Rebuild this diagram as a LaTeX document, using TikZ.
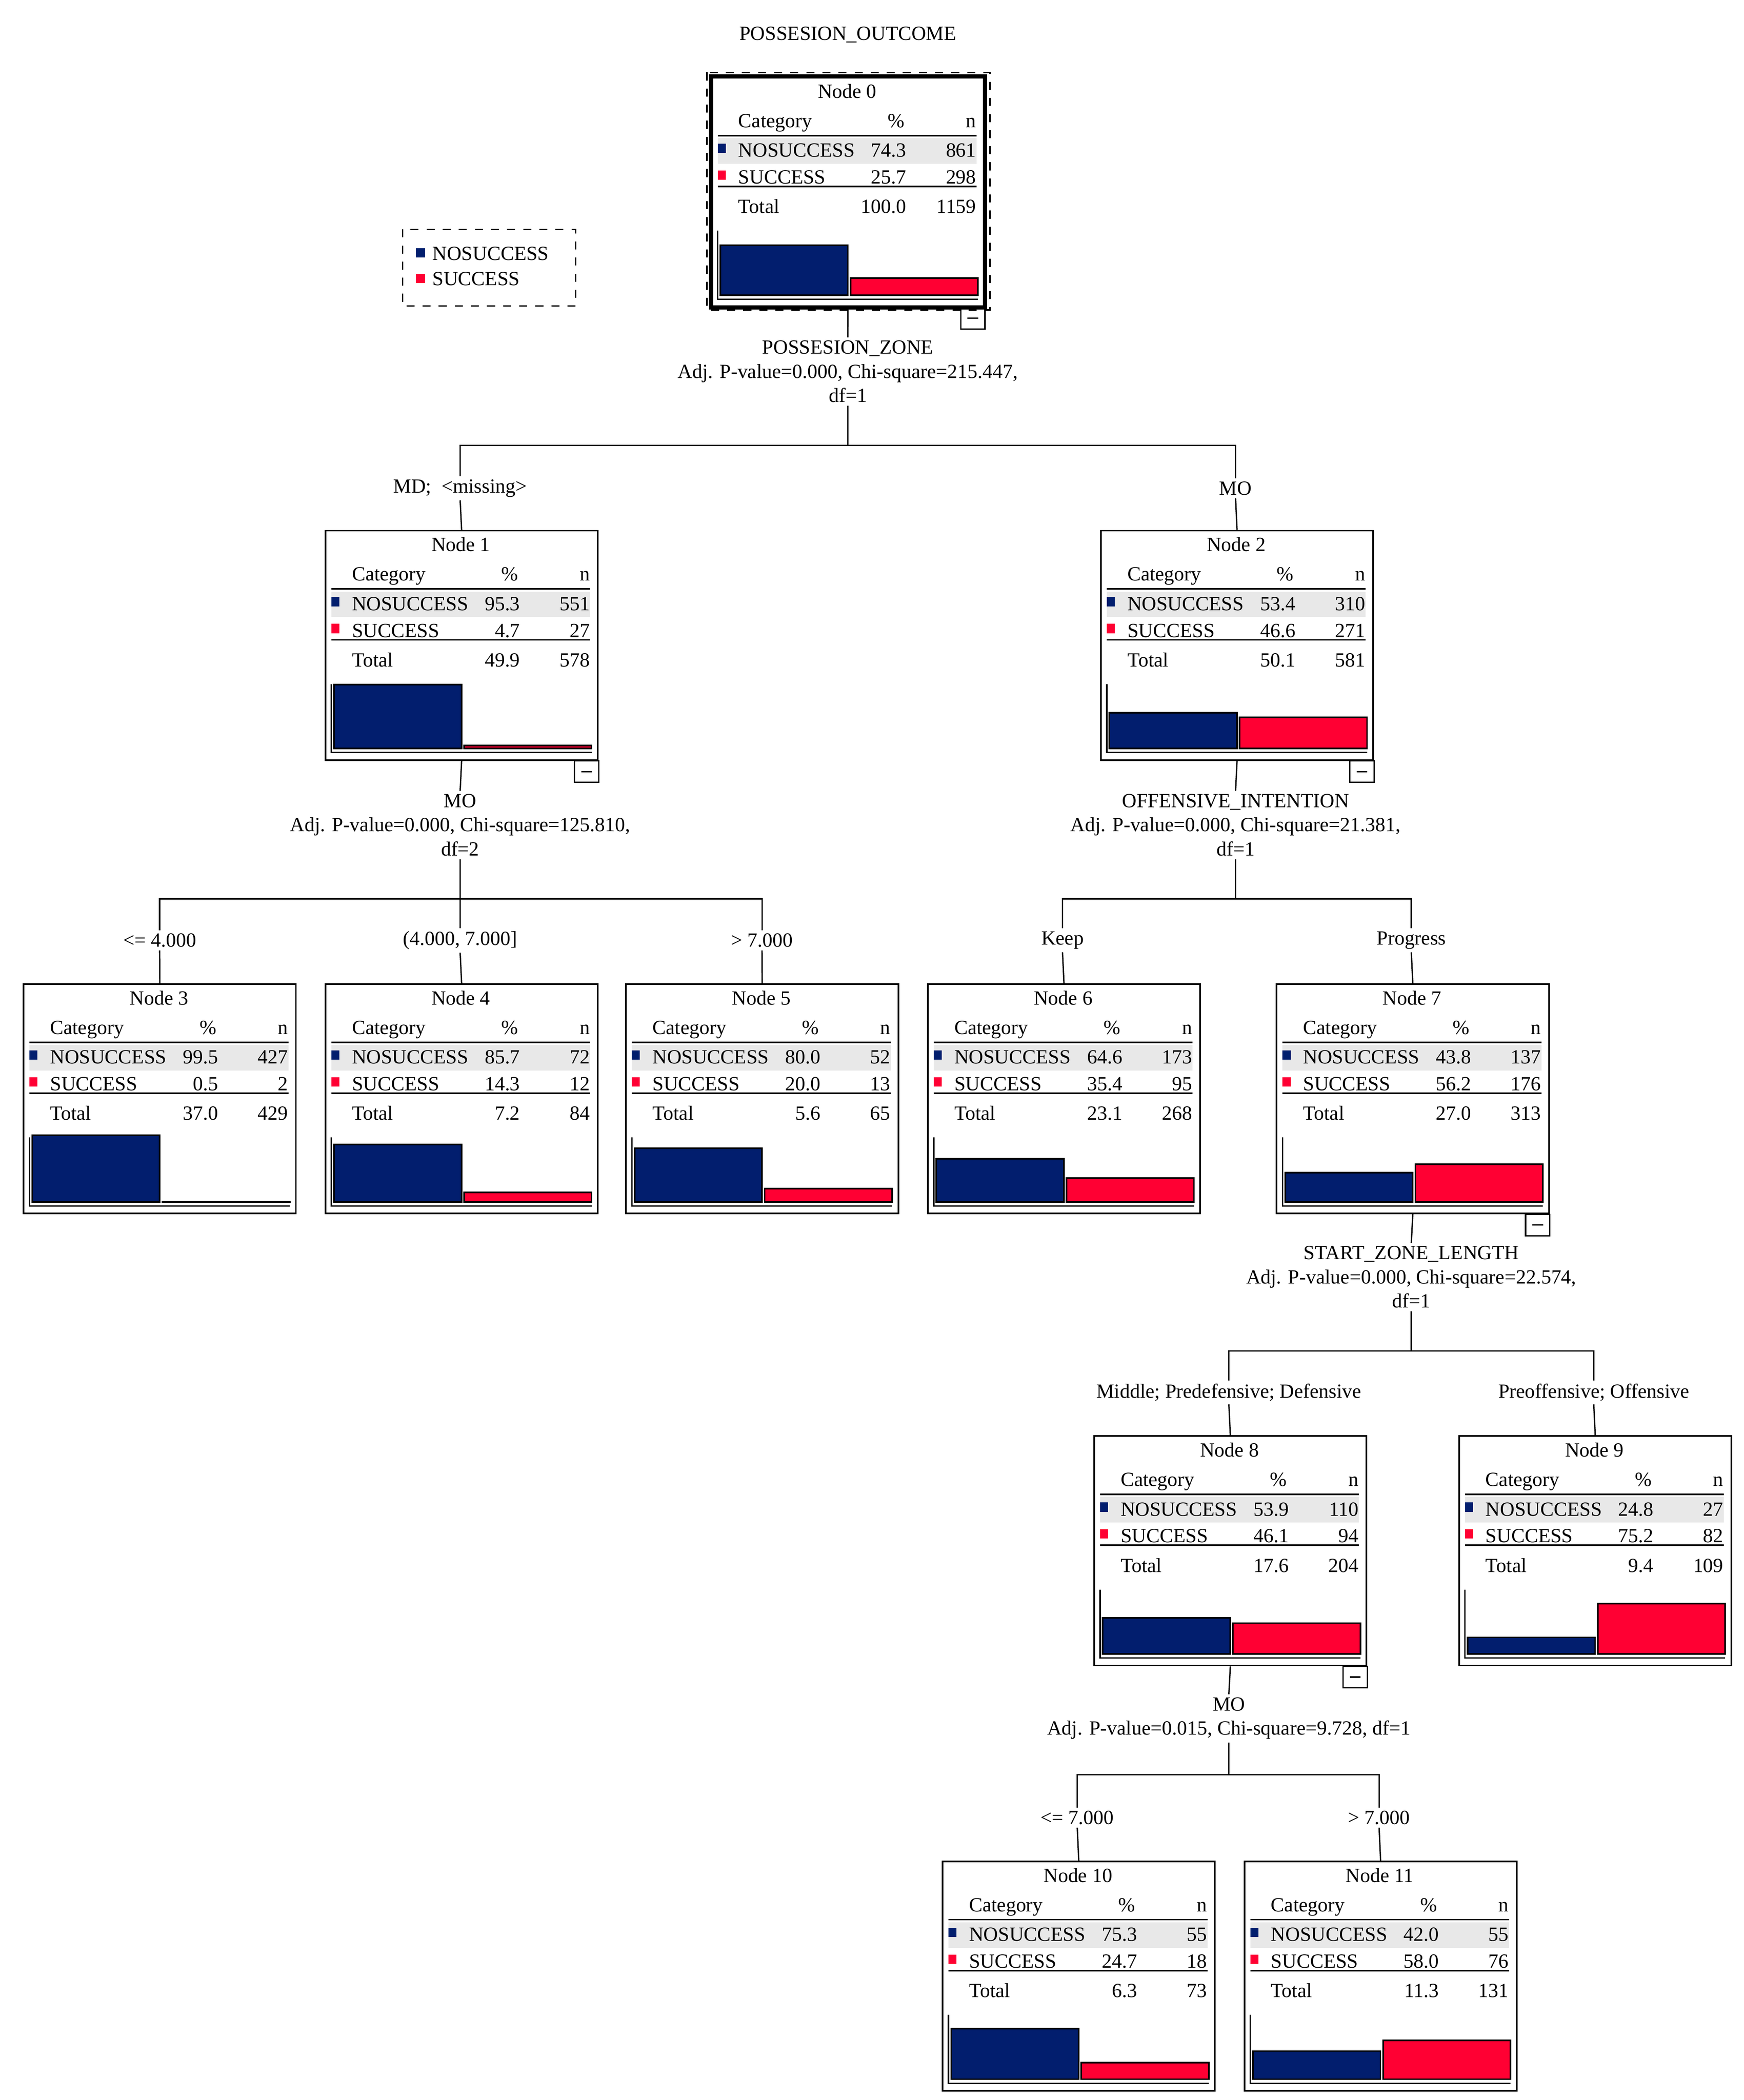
\documentclass[tikz,border=0pt]{standalone}
\usepackage{fontspec}
\setmainfont{Liberation Serif}
\definecolor{nb}{HTML}{021E6E}
\definecolor{rd}{HTML}{FF0033}
\definecolor{gb}{HTML}{E8E8E8}
\newcommand\tnode[8]{%
\begin{scope}[shift={(#1)}]
\node[draw,line width=0.6pt,anchor=north west,minimum width=101.5pt,minimum height=85.5pt,inner sep=0pt] (n#2) at (0,0) {};
\fill[gb] (5,46) rectangle (198,65);
\node[txt,anchor=base] at (101.5,16) {Node #2};
\node[txt,anchor=base west] at (20,38) {Category};
\node[txt,anchor=base] at (138,38) {\%};
\node[txt,anchor=base east] at (198,38) {n};
\draw[line width=0.6pt] (5,44)--(198,44) (5,82)--(198,82);
\fill[nb] (5,50) rectangle (11,57);
\fill[rd] (5,70) rectangle (11,77);
\node[txt,anchor=base west] at (20,60) {NOSUCCESS};
\node[txt,anchor=base east] at (146,60) {#3};
\node[txt,anchor=base east] at (198,60) {#4};
\node[txt,anchor=base west] at (20,80) {SUCCESS};
\node[txt,anchor=base east] at (146,80) {#5};
\node[txt,anchor=base east] at (198,80) {#6};
\node[txt,anchor=base west] at (20,102) {Total};
\node[txt,anchor=base east] at (146,102) {#7};
\node[txt,anchor=base east] at (198,102) {#8};
\pgfmathsetmacro\hA{#3/2}\pgfmathsetmacro\hB{#5/2}
\draw[line width=0.6pt,fill=nb] (7,163) rectangle (102,163-\hA);
\draw[line width=0.6pt,fill=rd] (104,163) rectangle (199,163-\hB);
\draw[line width=0.5pt] (5,115)--(5,166)--(199,166);
\end{scope}}
\newcommand\collapse[1]{\draw[line width=0.5pt] (#1.south east) ++(-18,0) rectangle ++(18,16) ++(-13,-8) -- ++(8,0);}
\begin{document}
\begin{tikzpicture}[x=0.5pt,y=-0.5pt,
 txt/.style={inner sep=0pt,font=\fontsize{7.5}{9}\selectfont},
 lab/.style={txt,fill=white,inner sep=1pt,align=center},
 ln/.style={line width=0.5pt}]
\path[use as bounding box] (0,0) rectangle (1300,1565.5);
\node[txt] (title) at (632,26) {POSSESION\_OUTCOME};
% legend
\draw[dashed,line width=0.5pt] (300,171) rectangle (429,228);
\fill[nb] (310,185) rectangle (317,192);
\fill[rd] (310,204) rectangle (317,211);
\node[txt,anchor=west] (lg1) at (322,189) {NOSUCCESS};
\node[txt,anchor=west] (lg2) at (322,208) {SUCCESS};
% nodes
\tnode{530,57}{0}{74.3}{861}{25.7}{298}{100.0}{1159}
\draw[line width=1.5pt] (n0.north west) rectangle (n0.south east);
\draw[dashed,line width=0.6pt] (527,54) rectangle (738,231);
\tnode{242,395}{1}{95.3}{551}{4.7}{27}{49.9}{578}
\tnode{820,395}{2}{53.4}{310}{46.6}{271}{50.1}{581}
\tnode{17,733}{3}{99.5}{427}{0.5}{2}{37.0}{429}
\tnode{242,733}{4}{85.7}{72}{14.3}{12}{7.2}{84}
\tnode{466,733}{5}{80.0}{52}{20.0}{13}{5.6}{65}
\tnode{691,733}{6}{64.6}{173}{35.4}{95}{23.1}{268}
\tnode{951,733}{7}{43.8}{137}{56.2}{176}{27.0}{313}
\tnode{815,1070}{8}{53.9}{110}{46.1}{94}{17.6}{204}
\tnode{1087,1070}{9}{24.8}{27}{75.2}{82}{9.4}{109}
\tnode{702,1387}{10}{75.3}{55}{24.7}{18}{6.3}{73}
\tnode{927,1387}{11}{42.0}{55}{58.0}{76}{11.3}{131}
\collapse{n0}\collapse{n1}\collapse{n2}\collapse{n7}\collapse{n8}
% split labels
\node[lab] (s0) at (632,277) {POSSESION\_ZONE\\Adj. P-value=0.000, Chi-square=215.447,\\df=1};
\node[lab] (s1) at (343,615) {MO\\Adj. P-value=0.000, Chi-square=125.810,\\df=2};
\node[lab] (s2) at (921,615) {OFFENSIVE\_INTENTION\\Adj. P-value=0.000, Chi-square=21.381,\\df=1};
\node[lab] (s7) at (1052,952) {START\_ZONE\_LENGTH\\Adj. P-value=0.000, Chi-square=22.574,\\df=1};
\node[lab] (s8) at (916,1281) {MO\\Adj. P-value=0.015, Chi-square=9.728, df=1};
% bars
\coordinate (b0) at (632,332); \coordinate (b1) at (343,670); \coordinate (b2) at (921,670);
\coordinate (b7) at (1052,1007); \coordinate (b8) at (916,1323);
% edge labels
\node[lab] (e1) at (343,364) {MD;\ \ <missing>};
\node[lab] (e2) at (921,364) {MO};
\node[lab] (e3) at (119,701) {<= 4.000};
\node[lab] (e4) at (343,701) {(4.000, 7.000]};
\node[lab] (e5) at (568,701) {> 7.000};
\node[lab] (e6) at (792,701) {Keep};
\node[lab] (e7) at (1052,701) {Progress};
\node[lab] (e8) at (916,1038) {Middle; Predefensive; Defensive};
\node[lab] (e9) at (1188,1038) {Preoffensive; Offensive};
\node[lab] (e10) at (803,1355) {<= 7.000};
\node[lab] (e11) at (1028,1355) {> 7.000};
% connectors
\draw[ln] (n0.south) -- (s0.north); \draw[ln] (s0.south) -- (b0);
\draw[ln] (e1.north) |- (b0) -| (e2.north);
\draw[ln] (e1.south) -- (n1.north); \draw[ln] (e2.south) -- (n2.north);
\draw[ln] (n1.south) -- (s1.north); \draw[ln] (s1.south) -- (b1);
\draw[ln] (e3.north) |- (b1) -| (e5.north); \draw[ln] (b1) -- (e4.north);
\draw[ln] (e3.south) -- (n3.north); \draw[ln] (e4.south) -- (n4.north); \draw[ln] (e5.south) -- (n5.north);
\draw[ln] (n2.south) -- (s2.north); \draw[ln] (s2.south) -- (b2);
\draw[ln] (e6.north) |- (b2) -| (e7.north);
\draw[ln] (e6.south) -- (n6.north); \draw[ln] (e7.south) -- (n7.north);
\draw[ln] (n7.south) -- (s7.north); \draw[ln] (s7.south) -- (b7);
\draw[ln] (e8.north) |- (b7) -| (e9.north);
\draw[ln] (e8.south) -- (n8.north); \draw[ln] (e9.south) -- (n9.north);
\draw[ln] (n8.south) -- (s8.north); \draw[ln] (s8.south) -- (b8);
\draw[ln] (e10.north) |- (b8) -| (e11.north);
\draw[ln] (e10.south) -- (n10.north); \draw[ln] (e11.south) -- (n11.north);
\end{tikzpicture}
\end{document}
